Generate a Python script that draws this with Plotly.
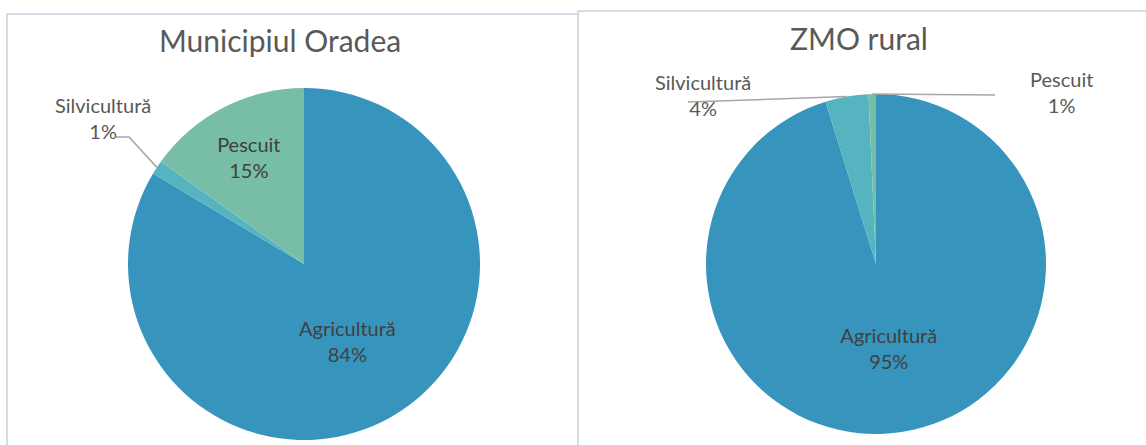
import math
import plotly.graph_objects as go

W, H = 1146, 445

# ---------------- data ----------------
categories = ["Agricultură", "Silvicultură", "Pescuit"]
oradea_values = [83.6, 1.3, 15.1]
zmo_values = [95.2, 4.1, 0.7]
titles = ["Municipiul Oradea", "ZMO rural"]

colors = ["#3795BD", "#56B4C0", "#78BDA5"]
FONT = "Lato"
TXT = "#595959"

# ---------------- layout geometry (px, top-left origin) ----------------
pies = [
    dict(cx=304, cy=264, r=176, values=oradea_values, title=titles[0], tx=280, ty=40),
    dict(cx=876, cy=264, r=170, values=zmo_values, title=titles[1], tx=859, ty=38),
]

def px(x):
    return x / W

def py(y):
    return 1 - y / H

fig = go.Figure()
annotations = []
shapes = []

# panel boxes
shapes.append(dict(type="rect", xref="paper", yref="paper",
                   x0=px(7), x1=px(578), y0=py(H + 5), y1=py(14),
                   line=dict(color="#D3DDE8", width=2), layer="below"))
shapes.append(dict(type="rect", xref="paper", yref="paper",
                   x0=px(578), x1=px(W + 5), y0=py(H + 5), y1=py(11),
                   line=dict(color="#D3DDE8", width=2), layer="below"))

# small-slice label placements (px) and elbow points
outside = {
    (0, 1): dict(lx=103, ly=118, path=[(129, 137), (116, 137)]),
    (1, 1): dict(lx=703, ly=95, path=[(688, 102)]),
    (1, 2): dict(lx=1061, ly=92, path=[(995, 95)]),
}

for i, p in enumerate(pies):
    vals = p["values"]
    total = sum(vals)
    templates = []
    for j in range(len(vals)):
        if (i, j) in outside:
            templates.append("")
        else:
            templates.append("%{label}<br>%{percent:.0%}")
    fig.add_trace(go.Pie(
        labels=categories, values=vals, sort=False, direction="clockwise",
        rotation=0, marker=dict(colors=colors, line=dict(width=0)),
        texttemplate=templates, textposition="inside",
        insidetextorientation="horizontal",
        textfont=dict(family=FONT, size=20, color="#404040"),
        domain=dict(x=[px(p["cx"] - p["r"]), px(p["cx"] + p["r"])],
                    y=[py(p["cy"] + p["r"]), py(p["cy"] - p["r"])]),
        showlegend=False, hoverinfo="label+percent",
    ))
    annotations.append(dict(text=p["title"], x=px(p["tx"]), y=py(p["ty"]),
                            xref="paper", yref="paper", showarrow=False,
                            xanchor="center", yanchor="middle",
                            font=dict(family=FONT, size=30, color=TXT)))
    # leader lines for small slices
    cum = 0.0
    for j, v in enumerate(vals):
        mid = (cum + v / 2) / total * 360.0
        cum += v
        if (i, j) not in outside:
            continue
        o = outside[(i, j)]
        th = math.radians(mid)
        sx = p["cx"] + p["r"] * math.sin(th)
        sy = p["cy"] - p["r"] * math.cos(th)
        pts = [(sx, sy)] + o["path"]
        d = "M " + " L ".join(f"{px(a):.5f},{py(b):.5f}" for a, b in pts)
        shapes.append(dict(type="path", xref="paper", yref="paper", path=d,
                           line=dict(color="#A6A6A6", width=1.5)))
        pct = round(v / total * 100)
        annotations.append(dict(text=f"{categories[j]}<br>{pct}%",
                                x=px(o["lx"]), y=py(o["ly"]),
                                xref="paper", yref="paper", showarrow=False,
                                xanchor="center", yanchor="middle",
                                font=dict(family=FONT, size=20, color=TXT)))

fig.update_layout(
    width=W, height=H, margin=dict(l=0, r=0, t=0, b=0),
    paper_bgcolor="white", plot_bgcolor="white",
    annotations=annotations, shapes=shapes,
)

fig.write_html("out.html", config={"displayModeBar": False},
               post_script="document.body.style.margin='0';document.body.style.overflow='hidden';")
